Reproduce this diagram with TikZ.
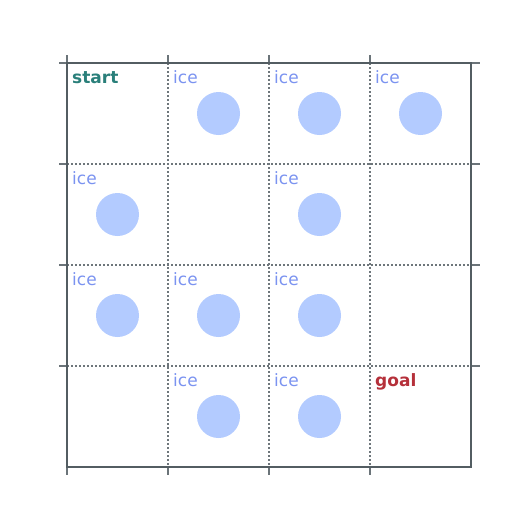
\documentclass[tikz,border=0pt]{standalone}
\usepackage{fontspec}
\setmainfont{DejaVu Sans}
\definecolor{frame}{HTML}{535D62}
\definecolor{tickc}{HTML}{6B7479}
\definecolor{dotc}{HTML}{6E767B}
\definecolor{icetxt}{HTML}{7B93F0}
\definecolor{icefill}{HTML}{B3CBFF}
\definecolor{startc}{HTML}{2A7F7A}
\definecolor{goalc}{HTML}{B5303A}
\tikzset{
  gridframe/.style={draw=frame, line width=1.5pt},
  tickline/.style={draw=tickc, line width=1.4pt},
  dotline/.style={draw=dotc, line width=1.3pt, dash pattern=on 1.5pt off 2.5pt},
  celltext/.style={anchor=base west, inner sep=0pt, font=\fontsize{17}{19}\selectfont},
  icelabel/.style={celltext, text=icetxt},
  icedisk/.style={circle, fill=icefill, minimum size=43pt, inner sep=0pt, draw=none},
}
\begin{document}
\begin{tikzpicture}[x=1pt,y=-1pt]
\useasboundingbox (0,0) rectangle (525,525);
% ticks
\foreach \v in {67,168,269,370} {
  \draw[tickline] (\v,55) -- (\v,63);
  \draw[tickline] (\v,467) -- (\v,475);
}
\foreach \h in {63,164,265,366} {
  \draw[tickline] (59,\h) -- (67,\h);
  \draw[tickline] (471,\h) -- (480,\h);
}
% dotted inner lines
\foreach \v in {168,269,370} {
  \draw[dotline] (\v,63) -- (\v,467);
}
\foreach \h in {164,265,366} {
  \draw[dotline] (67,\h) -- (471,\h);
}
% frame
\draw[gridframe] (67,63) rectangle (471,467);
% labels
\node[celltext, text=startc, font=\fontsize{17}{19}\selectfont\bfseries] (start) at (72,83) {start};
\node[celltext, text=goalc, font=\fontsize{17}{19}\selectfont\bfseries] (goal) at (375,386) {goal};
% ice cells: (col,row)
\foreach \c/\r in {1/0,2/0,3/0,0/1,2/1,0/2,1/2,2/2,1/3,2/3} {
  \pgfmathsetmacro{\cx}{67+101*\c}
  \pgfmathsetmacro{\cy}{63+101*\r}
  \node[icelabel] (ice-\c-\r) at (\cx+5,\cy+20) {ice};
  \node[icedisk] (disk-\c-\r) at (\cx+50.5,\cy+50.5) {};
}
\end{tikzpicture}
\end{document}
